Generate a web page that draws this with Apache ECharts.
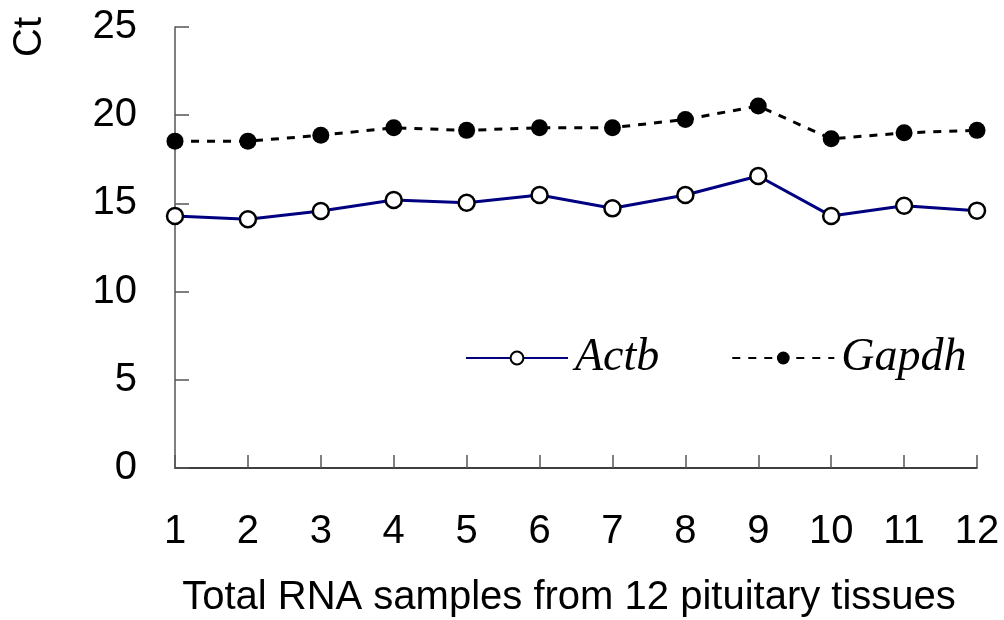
<!DOCTYPE html>
<html>
<head>
<meta charset="utf-8">
<script src="https://cdn.jsdelivr.net/npm/echarts@6/dist/echarts.min.js"></script>
<style>
  html, body { margin: 0; padding: 0; background: #fff; }
  #main { width: 1004px; height: 620px; }
</style>
</head>
<body>
<div id="main"></div>
<script>
var samples = ['1', '2', '3', '4', '5', '6', '7', '8', '9', '10', '11', '12'];
var actb = [14.29, 14.1, 14.57, 15.19, 15.04, 15.48, 14.72, 15.48, 16.55, 14.29, 14.87, 14.59];
var gapdh = [18.53, 18.53, 18.86, 19.29, 19.14, 19.29, 19.29, 19.76, 20.52, 18.66, 19.0, 19.14];
var yTicks = [0, 5, 10, 15, 20, 25];

var chart = echarts.init(document.getElementById('main'), null, { renderer: 'canvas' });

var sans = 'Liberation Sans';
var serif = 'Liberation Serif';

var option = {
    backgroundColor: '#fff',
    animation: false,
    grid: {
        left: 175,
        right: 27,
        top: 27,
        bottom: 152,
        outerBoundsMode: 'none',
        containLabel: false
    },
    legend: {
        left: 460,
        top: 330,
        itemWidth: 102,
        itemHeight: 16,
        itemGap: 72,
        textStyle: {
            fontFamily: serif,
            fontStyle: 'italic',
            fontSize: 46,
            color: '#000',
            padding: [0, 0, 0, 2]
        },
        lineStyle: { width: 2 },
        data: ['Actb', 'Gapdh']
    },
    graphic: [{
        type: 'text',
        x: 30,
        y: 37,
        rotation: Math.PI / 2,
        style: {
            text: 'Ct',
            x: 0,
            y: 0,
            align: 'center',
            verticalAlign: 'middle',
            fontFamily: sans,
            fontSize: 40,
            fill: '#000'
        }
    }],
    xAxis: {
        type: 'category',
        data: samples,
        boundaryGap: false,
        name: 'Total RNA samples from 12 pituitary tissues',
        nameLocation: 'middle',
        nameGap: 110,
        nameTextStyle: { fontFamily: sans, fontSize: 40, color: '#000', padding: [0, 14, 0, 0] },
        axisLine: { lineStyle: { color: '#000', width: 1.5 } },
        axisTick: { inside: true, length: 13, lineStyle: { color: '#555', width: 1.5 } },
        axisLabel: { fontFamily: sans, fontSize: 40, color: '#000', margin: 44 },
        splitLine: { show: false }
    },
    yAxis: {
        type: 'value',
        min: yTicks[0],
        max: yTicks[yTicks.length - 1],
        interval: yTicks[1] - yTicks[0],
        axisLine: { show: true, lineStyle: { color: '#555', width: 1.5 } },
        axisTick: { show: true, inside: true, length: 14, lineStyle: { color: '#555', width: 1.5 } },
        axisLabel: { fontFamily: sans, fontSize: 40, color: '#000', margin: 38 },
        splitLine: { show: false }
    },
    series: [{
        name: 'Actb',
        type: 'line',
        data: actb,
        symbol: 'circle',
        symbolSize: 16,
        lineStyle: { color: '#000080', width: 3 },
        itemStyle: { color: '#fff', borderColor: '#000', borderWidth: 2.5 },
        z: 3
    }, {
        name: 'Gapdh',
        type: 'line',
        data: gapdh,
        symbol: 'circle',
        symbolSize: 17,
        lineStyle: { color: '#000', width: 3, type: [8, 8] },
        itemStyle: { color: '#000', borderColor: '#000', borderWidth: 0 },
        z: 3
    }]
};

chart.setOption(option);
</script>
</body>
</html>
